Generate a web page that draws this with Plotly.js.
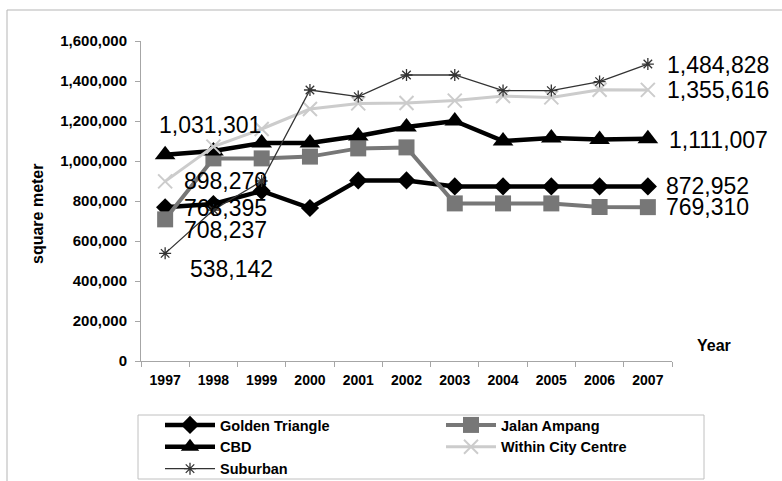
<!DOCTYPE html>
<html>
<head>
<meta charset="utf-8">
<script src="https://cdn.plot.ly/plotly-3.0.1.min.js"></script>
<style>
  html, body { margin: 0; padding: 0; background: #ffffff; }
  #chart { width: 782px; height: 481px; }
</style>
</head>
<body>
<div id="chart"></div>
<script>
// Office floor space by area, square meter, 1997-2007
const years = ['1997', '1998', '1999', '2000', '2001', '2002', '2003', '2004', '2005', '2006', '2007'];
const goldenTriangle   = [768395, 785000, 850000, 765000, 903000, 903000, 872952, 872952, 872952, 872952, 872952];
const jalanAmpang      = [708237, 1013000, 1013000, 1022000, 1063000, 1068000, 788000, 788000, 788000, 770000, 769310];
const cbd              = [1031301, 1050000, 1090000, 1090000, 1125000, 1170000, 1200000, 1100000, 1115000, 1108000, 1111007];
const withinCityCentre = [898270, 1072000, 1160000, 1260000, 1288000, 1290000, 1302000, 1325000, 1318000, 1356000, 1355616];
const suburban         = [538142, 755000, 900000, 1355000, 1322000, 1430000, 1430000, 1352000, 1352000, 1397000, 1484828];
const yTicks = [0, 200000, 400000, 600000, 800000, 1000000, 1200000, 1400000, 1600000];

const FONT = 'Liberation Sans, Arial, Helvetica, sans-serif';

// plot area in pixels (used to place paper-referenced decorations)
const W = 782, H = 481;
const M = { l: 141, r: 110, t: 41, b: 120, autoexpand: false };
const pw = W - M.l - M.r, ph = H - M.t - M.b;
const px = x => (x - M.l) / pw;
const py = y => (H - M.b - y) / ph;

const series = [
  { name: 'Golden Triangle',    y: goldenTriangle,   color: '#000000', width: 4.5, symbol: 'diamond',      size: 14, mline: 0,
    first: { dx: 17, dy: -1 },  last: { dx: 16, dy: 0 } },
  { name: 'Jalan Ampang',       y: jalanAmpang,      color: '#777777', width: 4,   symbol: 'square',       size: 16, mline: 0,
    first: { dx: 17, dy: -11 }, last: { dx: 16, dy: 0 } },
  { name: 'CBD',                y: cbd,              color: '#000000', width: 4.5, symbol: 'triangle-up',  size: 18, mline: 0,
    first: { dx: -8, dy: 30 },  last: { dx: 19, dy: -1 } },
  { name: 'Within City Centre', y: withinCityCentre, color: '#cccccc', width: 3,   symbol: 'x-thin-open',  size: 14, mline: 2,
    first: { dx: 17, dy: 0 },   last: { dx: 17, dy: 0 } },
  { name: 'Suburban',           y: suburban,         color: '#333333', width: 1.3, symbol: 'asterisk-open', size: 10, mline: 1.3,
    first: { dx: 23, dy: -16 }, last: { dx: 17, dy: -1 } }
];

const traces = series.map(s => ({
  type: 'scatter',
  mode: 'lines+markers',
  name: s.name,
  x: years,
  y: s.y,
  cliponaxis: false,
  line: { color: s.color, width: s.width },
  marker: { symbol: s.symbol, size: s.size, color: s.color, line: { color: s.color, width: s.mline } }
}));

// value labels at the first and last year of every series
// (on a category axis annotations are positioned by category index)
const fmt = v => v.toLocaleString('en-US');
const annotations = [];
series.forEach(s => {
  const n = s.y.length - 1;
  [[0, s.first], [n, s.last]].forEach(([i, off]) => {
    annotations.push({
      x: i, y: s.y[i], xref: 'x', yref: 'y',
      text: fmt(s.y[i]), showarrow: false,
      xanchor: 'left', yanchor: 'middle',
      xshift: off.dx, yshift: off.dy,
      font: { family: FONT, size: 23, color: '#000000' }
    });
  });
});

annotations.push({
  text: 'square meter', xref: 'paper', yref: 'paper', x: px(37), y: py(214),
  textangle: -90, showarrow: false, xanchor: 'center', yanchor: 'middle',
  font: { family: FONT, size: 16, color: '#000000', weight: 'bold' }
});
annotations.push({
  text: 'Year', xref: 'paper', yref: 'paper', x: px(714), y: py(345),
  showarrow: false, xanchor: 'center', yanchor: 'middle',
  font: { family: FONT, size: 16, color: '#000000', weight: 'bold' }
});

const shapes = [
  // outer chart frame
  { type: 'rect', xref: 'paper', yref: 'paper', x0: px(7), x1: px(800), y0: py(500), y1: py(10),
    line: { color: '#b5b5b5', width: 1 }, layer: 'below' },
  // legend frame
  { type: 'rect', xref: 'paper', yref: 'paper', x0: px(138), x1: px(704), y0: py(479), y1: py(415),
    line: { color: '#c0c0c0', width: 1 }, layer: 'below' }
];

const layout = {
  width: W, height: H,
  margin: M,
  paper_bgcolor: '#ffffff',
  plot_bgcolor: '#ffffff',
  showlegend: true,
  font: { family: FONT, color: '#000000' },
  xaxis: {
    type: 'category',
    range: [-0.5, years.length - 0.5],
    showgrid: false, zeroline: false,
    showline: true, linecolor: '#a6a6a6', linewidth: 1,
    ticks: 'outside', tickson: 'boundaries', ticklen: 5, tickcolor: '#a6a6a6',
    ticklabelstandoff: 6,
    tickfont: { family: FONT, size: 14, color: '#000000', weight: 'bold' }
  },
  yaxis: {
    range: [0, 1600000],
    tickvals: yTicks,
    tickformat: ',d',
    showgrid: false, zeroline: false,
    showline: true, linecolor: '#a6a6a6', linewidth: 1,
    ticks: 'outside', ticklen: 5, tickcolor: '#a6a6a6',
    ticklabelstandoff: 5,
    tickfont: { family: FONT, size: 15, color: '#000000', weight: 'bold' }
  },
  legend: {
    orientation: 'h',
    x: px(138), xanchor: 'left',
    y: py(485), yanchor: 'bottom',
    indentation: 22,
    bgcolor: 'rgba(0,0,0,0)',
    borderwidth: 0,
    itemwidth: 50,
    entrywidth: 194,
    font: { family: FONT, size: 14.5, color: '#000000', weight: 'bold' }
  },
  annotations: annotations,
  shapes: shapes
};

Plotly.newPlot('chart', traces, layout, { displayModeBar: false, staticPlot: true });
</script>
</body>
</html>
